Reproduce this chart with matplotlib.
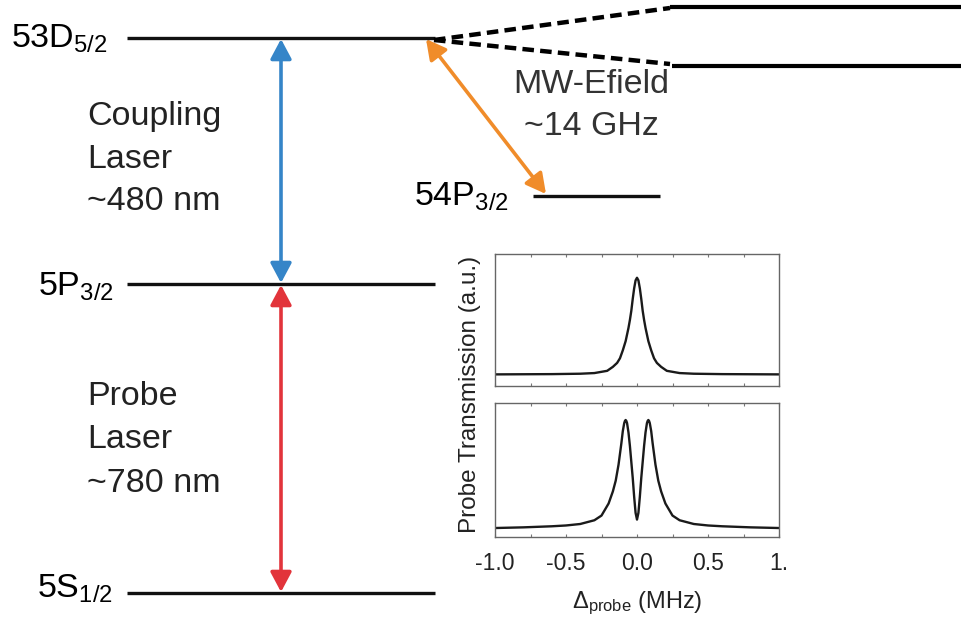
import numpy as np
import matplotlib.pyplot as plt
from matplotlib.patches import FancyArrowPatch

plt.rcParams['font.family'] = ['Liberation Sans', 'DejaVu Sans']
plt.rcParams['mathtext.fontset'] = 'custom'
plt.rcParams['mathtext.rm'] = 'Liberation Sans'
plt.rcParams['mathtext.it'] = 'Liberation Sans:italic'
plt.rcParams['mathtext.default'] = 'regular'

# probe transmission, MW off (single EIT peak)
det_eit = [-1.0, -0.8, -0.6, -0.4, -0.3, -0.21, -0.17, -0.14, -0.12, -0.10,
           -0.08, -0.07, -0.06, -0.05, -0.04, -0.03, -0.02, -0.01, 0.0,
           0.01, 0.02, 0.03, 0.04, 0.05, 0.06, 0.07, 0.08, 0.10, 0.12,
           0.14, 0.17, 0.21, 0.3, 0.4, 0.6, 0.8, 1.0]
trans_eit = [0.088, 0.089, 0.090, 0.093, 0.098, 0.115, 0.145, 0.175, 0.21, 0.27,
             0.34, 0.39, 0.44, 0.50, 0.57, 0.66, 0.74, 0.80, 0.82,
             0.80, 0.74, 0.66, 0.57, 0.50, 0.44, 0.39, 0.34, 0.27, 0.21,
             0.175, 0.145, 0.115, 0.098, 0.093, 0.090, 0.089, 0.088]

# probe transmission, MW on (Autler-Townes split)
det_at = [-1.0, -0.8, -0.6, -0.5, -0.4, -0.3, -0.25, -0.2, -0.17, -0.15, -0.13,
          -0.11, -0.10, -0.09, -0.085, -0.08, -0.075, -0.07, -0.06, -0.05, -0.04,
          -0.03, -0.02, -0.01, 0.0,
          0.01, 0.02, 0.03, 0.04, 0.05, 0.06, 0.07, 0.075, 0.08, 0.085, 0.09,
          0.10, 0.11, 0.13, 0.15, 0.17, 0.2, 0.25, 0.3, 0.4, 0.5, 0.6, 0.8, 1.0]
trans_at = [0.067, 0.072, 0.080, 0.086, 0.097, 0.125, 0.16, 0.25, 0.34, 0.42, 0.54,
            0.70, 0.79, 0.85, 0.866, 0.873, 0.866, 0.85, 0.78, 0.68, 0.56,
            0.44, 0.30, 0.18, 0.13,
            0.18, 0.30, 0.44, 0.56, 0.68, 0.78, 0.85, 0.866, 0.873, 0.866, 0.85,
            0.79, 0.70, 0.54, 0.42, 0.34, 0.25, 0.16, 0.125, 0.097, 0.086, 0.080, 0.072, 0.067]

xticks = [-1.0, -0.5, 0.0, 0.5, 1.0]
xtick_labels = ['-1.0', '-0.5', '0.0', '0.5', '1.']

level_labels = [r'53D$_{5/2}$', r'5P$_{3/2}$', r'5S$_{1/2}$', r'54P$_{3/2}$']
coupling_text = ['Coupling', 'Laser', '~480 nm']
probe_text = ['Probe', 'Laser', '~780 nm']
mw_text = ['MW-Efield', '~14 GHz']

W, H = 961, 619
fig = plt.figure(figsize=(W / 100, H / 100), dpi=100)
ax = fig.add_axes([0, 0, 1, 1])
ax.set_xlim(0, W)
ax.set_ylim(H, 0)
ax.axis('off')

fs = 24.5
# energy levels
for y in [38, 284, 593]:
    ax.plot([127, 435], [y, y], color='#111111', lw=2.4, solid_capstyle='butt')
ax.plot([533, 660], [196, 196], color='#111111', lw=2.4, solid_capstyle='butt')
ax.plot([670, 961], [7, 7], color='k', lw=3, solid_capstyle='butt')
ax.plot([672, 961], [66, 66], color='k', lw=3, solid_capstyle='butt')
ax.plot([434, 670], [40, 8], color='k', lw=3.2, ls=(0, (2.6, 1.4)))
ax.plot([434, 670], [40, 64], color='k', lw=3.2, ls=(0, (2.6, 1.4)))

# level labels
ax.text(11, 48, level_labels[0], fontsize=fs, va='baseline')
ax.text(38, 296, level_labels[1], fontsize=fs, va='baseline')
ax.text(37, 598, level_labels[2], fontsize=fs, va='baseline')
ax.text(414, 206, level_labels[3], fontsize=fs, va='baseline')

for i, s in enumerate(coupling_text):
    ax.text(87, 125 + 42.5 * i, s, fontsize=fs, va='baseline', color='#222222')
for i, s in enumerate(probe_text):
    ax.text(87, 405 + 43.5 * i, s, fontsize=fs, va='baseline', color='#222222')
for i, s in enumerate(mw_text):
    ax.text(591, 93 + 42 * i, s, fontsize=fs, va='baseline', ha='center', color='#333333')

# transitions
def arrow(p0, p1, color):
    a = FancyArrowPatch(p0, p1, arrowstyle='<|-|>,head_length=0.6,head_width=0.32',
                        mutation_scale=20, color=color, lw=2.6,
                        shrinkA=0, shrinkB=0)
    ax.add_patch(a)

arrow((281, 39), (281, 283), '#3585c8')
arrow((281, 285), (281, 592), '#e2343b')
arrow((426, 39), (546, 194), '#f08c2a')

# inset spectra
def inset(top, bottom):
    a = fig.add_axes([495 / W, 1 - bottom / H, 284 / W, (bottom - top) / H])
    a.set_xlim(-1, 1)
    a.set_ylim(0, 1)
    a.set_yticks([])
    a.set_xticks(xticks)
    a.set_xticks(np.arange(-1, 1.01, 0.25), minor=True)
    a.tick_params(axis='x', which='both', direction='in', top=True, length=2.5,
                  color='#777777', width=0.8)
    for sp in a.spines.values():
        sp.set_color('#666666')
        sp.set_linewidth(1)
    return a

ax1 = inset(254, 386)
ax1.plot(det_eit, trans_eit, color='#1a1a1a', lw=1.7)
ax1.tick_params(labelbottom=False)

ax2 = inset(403, 537)
ax2.plot(det_at, trans_at, color='#1a1a1a', lw=1.7)
ax2.set_xticklabels(xtick_labels, fontsize=16.5, color='#222222')
ax2.tick_params(axis='x', pad=11)
ax2.set_xlabel(r'$\Delta_{probe}$ (MHz)', fontsize=17, color='#222222', labelpad=10)

fig.text(470 / W, 1 - 394 / H, 'Probe Transmission (a.u.)', rotation=90,
         fontsize=17.5, ha='center', va='center', color='#222222')

fig.savefig('out.png', dpi=100)
